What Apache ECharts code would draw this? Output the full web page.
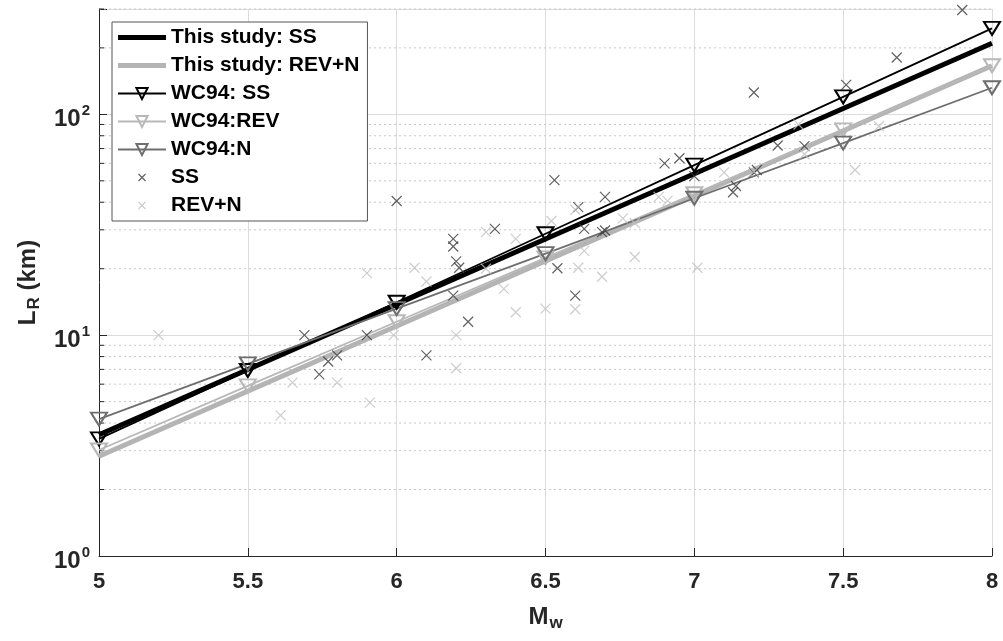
<!DOCTYPE html>
<html><head><meta charset="utf-8">
<script src="https://cdn.jsdelivr.net/npm/echarts@6/dist/echarts.min.js"></script>
<style>html,body{margin:0;padding:0;background:#fff}#c{width:1003px;height:641px}</style>
</head><body><div id="c"></div>
<script>
const FONT = "'Liberation Sans', Arial, sans-serif";
const xTicks = [5, 5.5, 6, 6.5, 7, 7.5, 8];
const minorTicksY = [2,3,4,5,6,7,8,9,20,30,40,50,60,70,80,90,200,300];

const studyMw = [5, 8];
const studySS = [3.54, 210];
const studyRevN = [2.83, 166];

const wcMw = [5, 5.5, 6, 6.5, 7, 7.5, 8];
const wcSS = [3.39, 6.92, 14.1, 28.8, 58.9, 120, 245];
const wcREV = [3.02, 5.89, 11.5, 22.4, 43.7, 85.1, 166];
const wcN = [4.17, 7.41, 13.2, 23.4, 41.7, 74.1, 132];

const ssMw = [5.69, 5.74, 5.77, 5.80, 5.90, 6.00, 6.10, 6.19, 6.19, 6.20, 6.21, 6.19, 6.24, 6.33, 6.53, 6.54, 6.60, 6.61, 6.63, 6.69, 6.70, 6.70, 6.90, 6.95, 7.00, 7.13, 7.14, 7.20, 7.21, 7.20, 7.28, 7.37, 7.51, 7.68, 7.90];
const ssL  = [10.0, 6.65, 7.6, 8.1, 10.0, 40.5, 8.1, 27.3, 25.2, 21.6, 20.2, 15.1, 11.5, 30.3, 50.4, 20.1, 15.1, 38.0, 30.3, 29.3, 29.8, 42.3, 60.0, 63.3, 52.5, 44.4, 47.4, 54.6, 56.0, 125.6, 72.3, 71.8, 136, 181, 297];

const rnMw = [5.20, 5.61, 5.65, 5.80, 5.90, 5.91, 5.99, 6.06, 6.10, 6.20, 6.20, 6.30, 6.30, 6.36, 6.40, 6.40, 6.50, 6.52, 6.60, 6.60, 6.61, 6.63, 6.69, 6.76, 6.80, 6.80, 6.88, 6.91, 7.01, 7.10, 7.20, 7.35, 7.37, 7.54, 7.62];
const rnL  = [10.0, 4.33, 6.1, 6.1, 19.1, 4.95, 10.0, 20.2, 17.5, 10.0, 7.08, 29.3, 20.0, 16.2, 27.3, 12.7, 13.2, 32.9, 37.0, 13.1, 20.2, 24.1, 18.4, 33.8, 32.2, 22.6, 42.3, 40.6, 20.2, 54.6, 55.0, 90.0, 66.0, 56.0, 88.3];

const zip = (a, b) => a.map((v, i) => [v, b[i]]);
const X_PATH = 'path://M0,0L10,10M10,0L0,10';
const X_LEG = 'path://M-5,-5M15,15M0,0L10,10M10,0L0,10';
const BAR_LEG = 'path://M0,0H48V5H0Z';
const AX = '#262626';

function wcSeries(name, data, color) {
  return {
    name, type: 'line', data: zip(wcMw, data),
    symbol: 'triangle', symbolRotate: 180, symbolSize: [16, 13],
    lineStyle: { color, width: 1.8 },
    itemStyle: { color: 'rgba(0,0,0,0)', borderColor: color, borderWidth: 2 },
    z: 3, animation: false
  };
}
function xSeries(name, mw, l, color) {
  return {
    name, type: 'scatter', data: zip(mw, l), symbol: X_PATH, symbolSize: 10,
    itemStyle: { color: 'rgba(0,0,0,0)', borderColor: color, borderWidth: 1.2 },
    z: 4, animation: false
  };
}

const chart = echarts.init(document.getElementById('c'));
chart.setOption({
  backgroundColor: '#fff',
  animation: false,
  grid: { left: 99, right: 11, top: 9, bottom: 85, containLabel: false },
  xAxis: {
    type: 'value', min: 5, max: 8, interval: 0.5,
    axisLine: { lineStyle: { color: AX, width: 1 } },
    axisTick: { inside: true, length: 8, lineStyle: { color: AX } },
    axisLabel: { margin: 15, color: AX, fontSize: 22, fontWeight: 'bold', fontFamily: FONT,
      formatter: v => String(v) },
    splitLine: { show: true, lineStyle: { color: '#dcdcdc', width: 1 } },
    name: '{a|M}{s|w}', nameLocation: 'middle', nameGap: 47,
    nameTextStyle: { rich: {
      a: { fontSize: 24, fontWeight: 'bold', color: AX, fontFamily: FONT },
      s: { fontSize: 17, fontWeight: 'bold', color: AX, fontFamily: FONT, padding: [12, 0, 0, 1] }
    } }
  },
  yAxis: {
    type: 'log', logBase: 10, min: 1, max: 300,
    axisLine: { show: true, lineStyle: { color: AX, width: 1 } },
    axisTick: { show: true, inside: true, length: 8, lineStyle: { color: AX } },
    axisLabel: { margin: 9, fontFamily: FONT,
      formatter: v => { const e = Math.round(Math.log10(v)); return Math.abs(v - Math.pow(10, e)) < 1e-6 ? '{b|10}{s|' + e + '}' : ''; },
      rich: {
        b: { fontSize: 24, fontWeight: 'bold', color: AX, fontFamily: FONT, padding: [10, 0, 0, 0] },
        s: { fontSize: 15, fontWeight: 'bold', color: AX, fontFamily: FONT, padding: [0, 0, 6, 1] }
      } },
    splitLine: { show: true, lineStyle: { color: '#dcdcdc', width: 1 } },
    name: '{a|L}{s|R}{a| (km)}', nameLocation: 'middle', nameGap: 54,
    nameTextStyle: { rich: {
      a: { fontSize: 24, fontWeight: 'bold', color: AX, fontFamily: FONT },
      s: { fontSize: 17, fontWeight: 'bold', color: AX, fontFamily: FONT, padding: [12, 0, 0, 1] }
    } }
  },
  legend: {
    orient: 'vertical', left: 112, top: 22,
    backgroundColor: '#fff', borderColor: '#555', borderWidth: 1,
    padding: [5, 8, 5, 5], itemGap: 7, itemWidth: 48, itemHeight: 14,
    textStyle: { fontSize: 21, fontWeight: 'bold', color: '#000', fontFamily: FONT },
    data: [
      { name: 'This study: SS', icon: BAR_LEG },
      { name: 'This study: REV+N', icon: BAR_LEG },
      { name: 'WC94: SS' },
      { name: 'WC94:REV' },
      { name: 'WC94:N' },
      { name: 'SS', icon: X_LEG, itemStyle: { borderWidth: 1.2 } },
      { name: 'REV+N', icon: X_LEG, itemStyle: { borderWidth: 1.2 } }
    ]
  },
  series: [
    {
      type: 'custom', z: 1, silent: true, animation: false,
      data: minorTicksY.map(v => [5, v]), encode: { x: 0, y: 1 },
      renderItem: (params, api) => {
        const p = api.coord([api.value(0), api.value(1)]);
        const cs = params.coordSys;
        return { type: 'group', children: [
          { type: 'line', shape: { x1: cs.x, y1: p[1], x2: cs.x + cs.width, y2: p[1] },
            style: { stroke: '#c8c8c8', lineWidth: 1, lineDash: [2, 3] } },
          { type: 'line', shape: { x1: cs.x, y1: p[1], x2: cs.x + 5, y2: p[1] },
            style: { stroke: AX, lineWidth: 1 } }
        ] };
      }
    },
    { name: 'This study: SS', type: 'line', data: zip(studyMw, studySS), symbol: 'none',
      lineStyle: { color: '#000', width: 5 }, itemStyle: { color: '#000' }, z: 2 },
    { name: 'This study: REV+N', type: 'line', data: zip(studyMw, studyRevN), symbol: 'none',
      lineStyle: { color: '#b4b4b4', width: 5 }, itemStyle: { color: '#b4b4b4' }, z: 2 },
    wcSeries('WC94: SS', wcSS, '#000000'),
    wcSeries('WC94:REV', wcREV, '#b8b8b8'),
    wcSeries('WC94:N', wcN, '#6e6e6e'),
    xSeries('SS', ssMw, ssL, '#3a3a3a'),
    xSeries('REV+N', rnMw, rnL, '#c0c0c0')
  ]
});
</script></body></html>
